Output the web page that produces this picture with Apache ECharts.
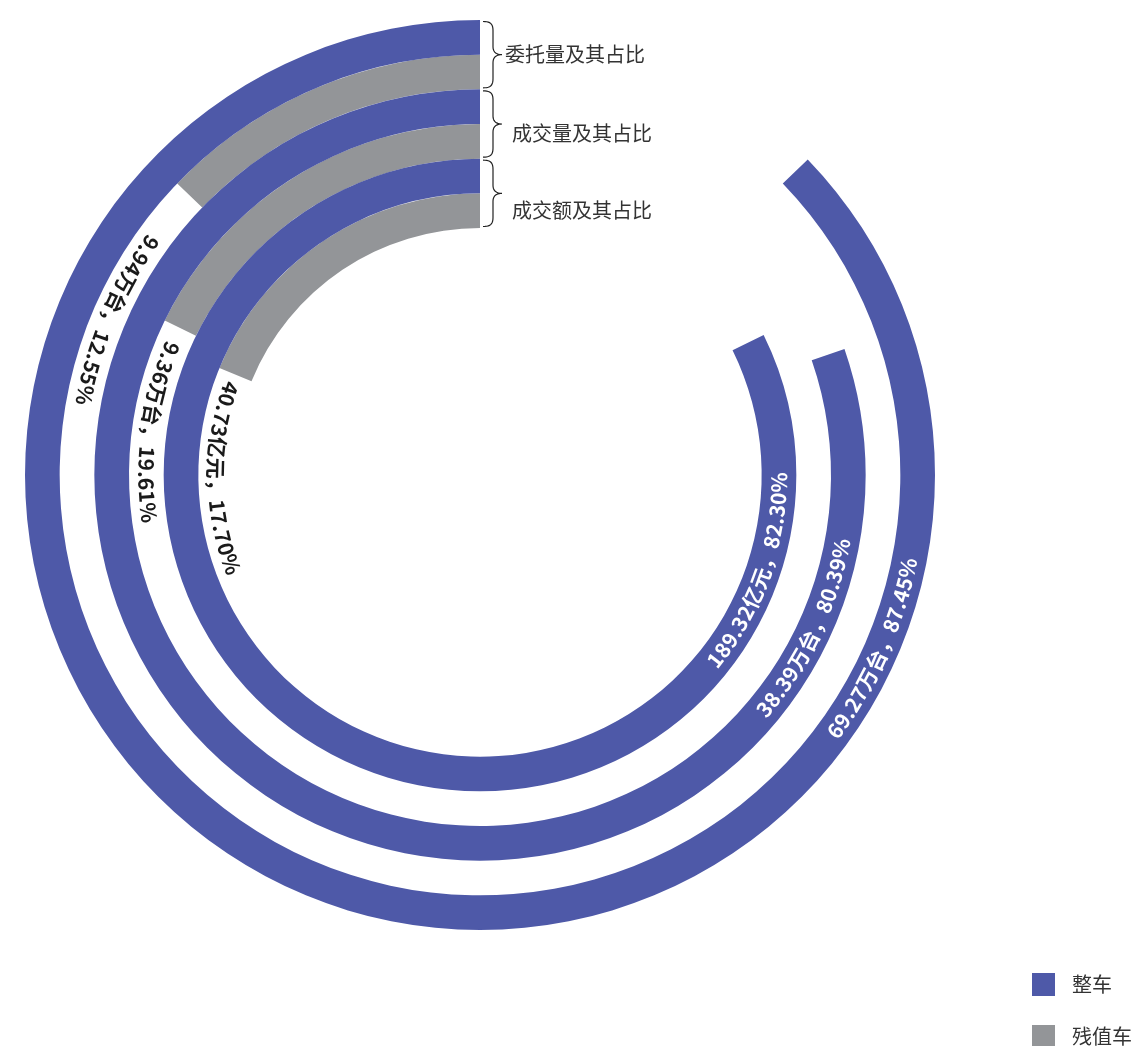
<!DOCTYPE html>
<html><head><meta charset="utf-8">
<script src="https://cdn.jsdelivr.net/npm/echarts@6/dist/echarts.min.js"></script>
<style>html,body{margin:0;padding:0;background:#fff}#main{width:1132px;height:1046px}</style>
</head><body><div id="main"></div>
<script>
// ---- data (radius categories listed from the inner ring outwards) ----
const categories = ['成交额', '成交量', '委托量'];
const categoryTitles = ['成交额及其占比', '成交量及其占比', '委托量及其占比'];
const wholeCarShare = [82.3, 80.3, 87.2];      // 整车, % of full circle as drawn
const residualCarShare = [18.8, 17.75, 12.8];  // 残值车, % of full circle as drawn
const wholeCarAmount = ['189.32亿元', '38.39万台', '69.27万台'];
const wholeCarPct = ['82.30%', '80.39%', '87.45%'];
const residualCarAmount = ['40.73亿元', '9.36万台', '9.94万台'];
const residualCarPct = ['17.70%', '19.61%', '12.55%'];

// ---- layout / style ----
const BLUE = '#4E59A8', GREY = '#939598';
const FONT = '"Noto Sans CJK SC", "Noto Sans", sans-serif';
const wholeLabelCenter = [69.6, 68.0, 68.4];     // angle-axis units
const residualLabelCenter = [25.2, 22.9, 18.6];
const LABEL_SIZE = 21;

const chart = echarts.init(document.getElementById('main'), null, {renderer: 'canvas'});

const titlePad = [[34, 0, 0, 7], [18, 0, 0, 7], [0, 0, 0, 0]];
const rich = {};
titlePad.forEach((p, i) => { rich['t' + i] = {padding: p, fontSize: 20, color: '#333', fontFamily: FONT}; });

chart.setOption({
  animation: false,
  polar: {center: [480, 475], radius: [247, 455]},
  angleAxis: {type: 'value', min: 0, max: 100, startAngle: 90, clockwise: false, show: false},
  radiusAxis: {
    type: 'category', data: categories, z: 10,
    axisLine: {show: false}, axisTick: {show: false}, splitLine: {show: false},
    axisLabel: {
      interval: 0, margin: -25, align: 'left', verticalAlign: 'middle',
      formatter: (v, i) => '{t' + i + '|' + categoryTitles[i] + '}',
      rich: rich
    }
  },
  legend: {
    orient: 'vertical', left: 1027, top: 968, height: 120, itemWidth: 23, itemHeight: 23, itemGap: 29,
    icon: 'rect', selectedMode: false, data: ['整车', '残值车'],
    textStyle: {fontSize: 20, color: '#333', fontFamily: FONT, padding: [0, 0, 0, 12]}
  },
  series: [
    {name: '残值车', type: 'bar', coordinateSystem: 'polar', data: residualCarShare,
     itemStyle: {color: GREY}, barGap: '0%', barCategoryGap: '0%', z: 2},
    {name: '整车', type: 'bar', coordinateSystem: 'polar', data: wholeCarShare,
     itemStyle: {color: BLUE}, barGap: '0%', barCategoryGap: '0%', z: 2}
  ]
});

// ---- geometry from the polar scales ----
const pix = (cat, v) => chart.convertToPixel({seriesIndex: 0}, [cat, v]);
const top0 = pix(0, 0), left0 = pix(0, 25);
const cx = top0[0], cy = left0[1];
const rCat = categories.map((c, i) => cy - pix(i, 0)[1]);
const band = (rCat[2] - rCat[0]) / 2;   // width of one category band
const barW = band / 2;

const ctx = document.createElement('canvas').getContext('2d');
function curvedLabel(text, catIdx, centerVal, outward, weight, color) {
  ctx.font = weight + ' ' + LABEL_SIZE + 'px ' + FONT;
  const chars = Array.from(text);
  const ws = chars.map(ch => ctx.measureText(ch).width);
  const shift = (outward ? 1 : -1) * barW / 2;
  const r = rCat[catIdx] + shift;
  const toUnits = w => w / r * 180 / Math.PI / 3.6;
  const total = ws.reduce((a, b) => a + b, 0);
  let u = centerVal - toUnits(total) / 2;
  return chars.map((ch, k) => {
    const du = toUnits(ws[k]);
    const v = u + du / 2; u += du;
    const p = pix(catIdx, v);
    const dx = p[0] - cx, dy = p[1] - cy, len = Math.hypot(dx, dy);
    let deg = 180 + 3.6 * v;
    while (deg > 180) deg -= 360;
    return {
      name: ch, x: p[0] + dx / len * shift, y: p[1] + dy / len * shift,
      label: {rotate: deg, color: color, fontWeight: weight}
    };
  });
}

const wholeMarks = [], residualMarks = [];
categories.forEach((c, i) => {
  wholeMarks.push(...curvedLabel(wholeCarAmount[i] + '，' + wholeCarPct[i], i, wholeLabelCenter[i], true, 'bold', '#ffffff'));
  residualMarks.push(...curvedLabel(residualCarAmount[i] + '，' + residualCarPct[i], i, residualLabelCenter[i], false, 'bold', '#1a1a1a'));
});
const markCommon = {
  symbol: 'circle', symbolSize: 1, silent: true,
  itemStyle: {color: 'rgba(0,0,0,0)'},
  label: {show: true, position: 'inside', formatter: '{b}', fontSize: LABEL_SIZE, fontFamily: FONT,
          align: 'center', verticalAlign: 'middle'}
};

// braces next to the radius-axis titles (sampled cubic curves)
function cubic(p0, p1, p2, p3, n, out) {
  for (let k = 1; k <= n; k++) {
    const t = k / n, s = 1 - t;
    out.push([s*s*s*p0[0] + 3*s*s*t*p1[0] + 3*s*t*t*p2[0] + t*t*t*p3[0],
              s*s*s*p0[1] + 3*s*s*t*p1[1] + 3*s*t*t*p2[1] + t*t*t*p3[1]]);
  }
}
const braces = categories.map((c, i) => {
  const mid = cy - rCat[i];
  const yT = mid - band / 2 + 1.5, yB = mid + band / 2 - 1.5;
  const x0 = cx + 3, xv = x0 + 10, xt = x0 + 19;
  const pts = [[x0, yT]];
  cubic([x0, yT], [x0 + 7, yT], [xv, yT + 2], [xv, yT + 9], 10, pts);
  pts.push([xv, mid - 8]);
  cubic([xv, mid - 8], [xv, mid - 2], [xv + 4, mid], [xt, mid], 10, pts);
  cubic([xt, mid], [xv + 4, mid], [xv, mid + 2], [xv, mid + 8], 10, pts);
  pts.push([xv, yB - 9]);
  cubic([xv, yB - 9], [xv, yB - 2], [x0 + 7, yB], [x0, yB], 10, pts);
  return {type: 'polyline', shape: {points: pts}, style: {fill: null, stroke: '#222', lineWidth: 1.2}, silent: true};
});

chart.setOption({
  series: [
    {name: '残值车', markPoint: Object.assign({data: residualMarks}, markCommon)},
    {name: '整车', markPoint: Object.assign({data: wholeMarks}, markCommon)}
  ],
  graphic: braces
});
</script></body></html>
